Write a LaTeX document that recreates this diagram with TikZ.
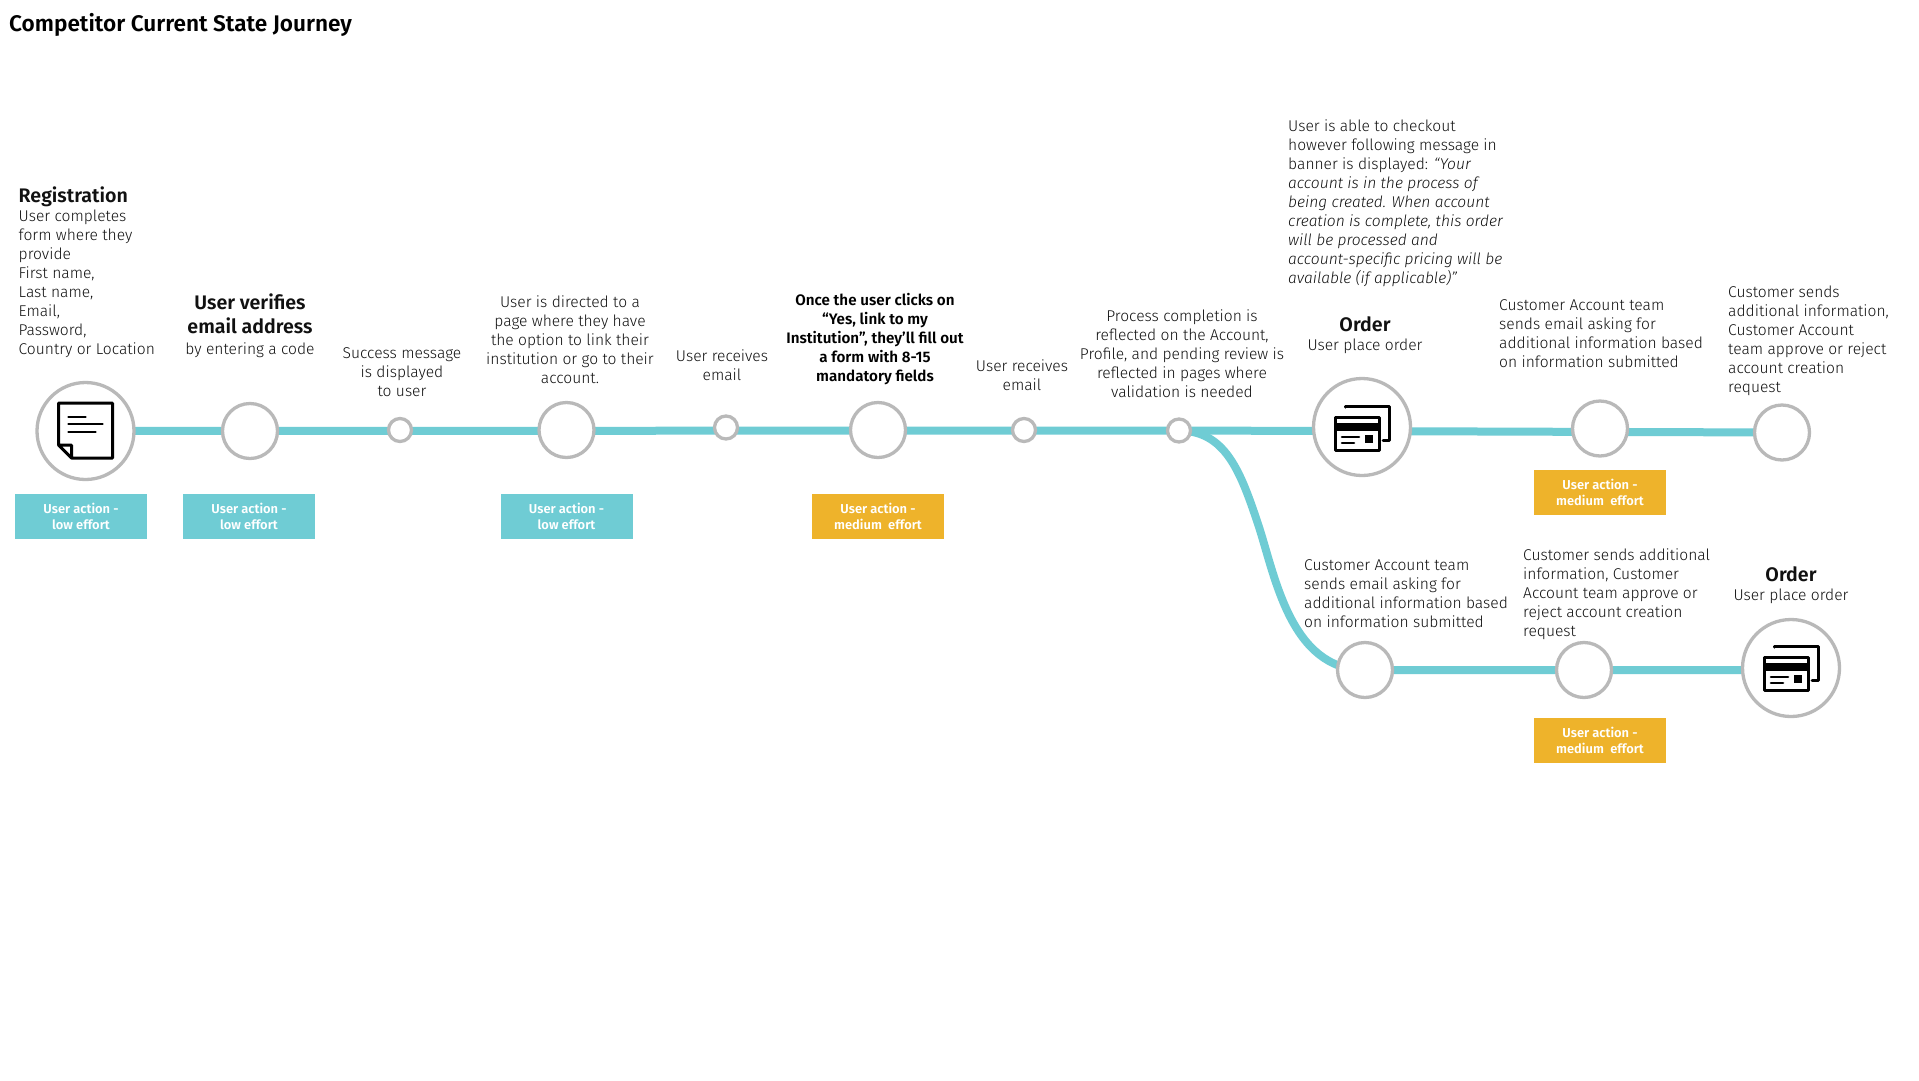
\documentclass[tikz,border=0pt]{standalone}
\usepackage{fontspec}
\setmainfont{Fira Sans Light}[BoldFont={Fira Sans SemiBold},ItalicFont={Fira Sans Light Italic}]
\usetikzlibrary{backgrounds}
\definecolor{teal}{HTML}{6FCCD4}
\definecolor{amber}{HTML}{EEB32B}
\definecolor{ring}{HTML}{B9B9B9}
\definecolor{ink}{HTML}{111111}
\tikzset{
  x=1pt,y=-1pt,
  ringnode/.style={circle,draw=ring,line width=3.3pt,fill=white,inner sep=0pt},
  big/.style={ringnode,minimum size=97pt},
  mid/.style={ringnode,minimum size=55pt},
  small/.style={ringnode,minimum size=23pt},
  track/.style={draw=teal,line width=8pt},
  badge/.style={minimum width=132pt,minimum height=45pt,inner sep=0pt,text=white,align=center,font=\fontsize{12.9}{16}\selectfont\bfseries},
  lowb/.style={badge,fill=teal},
  medb/.style={badge,fill=amber},
  body/.style={inner sep=0pt,text=ink,font=\fontsize{15.6}{19}\selectfont},
  lefttxt/.style={body,align=left,anchor=north west},
  midtxt/.style={body,align=center,anchor=south},
  icon/.style={line width=3pt,draw=black,line join=round,line cap=round},
  iconthin/.style={icon,line width=2.6pt}
}
\newcommand{\headtxt}[1]{{\fontsize{19.6}{24}\selectfont\bfseries #1}}
\newcommand{\cardicon}[2]{%
  \begin{scope}[shift={(#1,#2)}]
    \draw[icon] (-17,-21) -- (-17,-22) -- (27,-22) -- (27,12) -- (21,12);
    \draw[icon,fill=white] (-27,-11) rectangle (17,22);
    \fill[black] (-27,-5) rectangle (17,3);
    \draw[iconthin] (-20,9) -- (-3,9);
    \draw[iconthin] (-20,15) -- (-8,15);
    \fill[black] (3,7) rectangle (11,15);
  \end{scope}}
\begin{document}
\begin{tikzpicture}
\useasboundingbox (0,0) rectangle (1919,1080);
\node[anchor=west,inner sep=0pt,font=\fontsize{22.6}{26}\selectfont\bfseries] (title) at (9,25) {Competitor Current State Journey};
% nodes
\node[big] (n1) at (85.5,431) {};
\node[mid] (n2) at (250,431) {};
\node[small] (n3) at (400,430) {};
\node[mid] (n4) at (566.5,430) {};
\node[small] (n5) at (726,427.5) {};
\node[mid] (n6) at (878,430) {};
\node[small] (n7) at (1024,430) {};
\node[small] (n8) at (1179,430.5) {};
\node[big] (n9) at (1362,427) {};
\node[mid] (n10) at (1600,428.5) {};
\node[mid] (n11) at (1782,432.5) {};
\node[mid] (n12) at (1365,670) {};
\node[mid] (n13) at (1584,670) {};
\node[big] (n14) at (1791,668) {};
\coordinate (bend) at (1258,524);
\coordinate (lowend) at (1780,670);
% track, behind the rings
\begin{pgfonlayer}{background}
\fill[white] (0,0) rectangle (1919,1080);
\path[track] (n1.center) -- (n8.center) -- (n11.center);
\path[track] (n8.center) .. controls (1225,431) and (1240,470) .. (bend) .. controls (1275,575) and (1290,670) .. (n12.center) -- (n13.center) -- (lowend);
\end{pgfonlayer}
% icons
\begin{scope}[shift={(85.5,431)}]
  \draw[icon] (-27,14) -- (-27,-28) -- (27,-28) -- (27,27) -- (-14,27) -- (-27,14) -- (-14,14) -- (-14,27);
  \draw[iconthin] (-17,-14) -- (0,-14);
  \draw[iconthin] (-17,-7) -- (17,-7);
  \draw[iconthin] (-17,1) -- (10,1);
\end{scope}
\cardicon{1362}{428}
\cardicon{1791}{668}
% badges
\node[lowb] (b1) at (81,516.5) {User action -\\low effort};
\node[lowb] (b2) at (249,516.5) {User action -\\low effort};
\node[lowb] (b4) at (566.5,516.5) {User action -\\low effort};
\node[medb] (b6) at (878,516.5) {User action -\\medium\ \ effort};
\node[medb] (b10) at (1600,492.5) {User action -\\medium\ \ effort};
\node[medb] (b13) at (1600,740.5) {User action -\\medium\ \ effort};
% texts
\node[lefttxt] (t1) at (18.5,186.2) {\headtxt{Registration}\\User completes\\form where they\\provide\\First name,\\Last name,\\Email,\\Password,\\Country or Location};
\node[midtxt] (t2) at (250,358) {\headtxt{User verifies}\\[5pt]\headtxt{email address}\\[2pt]by entering a code};
\node[midtxt] (t3) at (402,397) {Success message\\is displayed\\to user};
\node[midtxt] (t4) at (570,383.5) {User is directed to a\\page where they have\\the option to link their\\institution or go to their\\account.};
\node[midtxt] (t5) at (722,380.5) {User receives\\email};
\node[midtxt,font=\fontsize{15.2}{19}\selectfont\bfseries,text=black] (t6) at (875,385.5) {Once the user clicks on\\“Yes, link to my\\Institution”, they’ll fill out\\a form with 8-15\\mandatory fields};
\node[midtxt] (t7) at (1022,391) {User receives\\email};
\node[midtxt] (t8) at (1182,398) {Process completion is\\reflected on the Account,\\Profile, and pending review is\\reflected in pages where\\validation is needed};
\node[lefttxt] (t9) at (1288,119.5) {User is able to checkout\\however following message in\\banner is displayed: \textit{“Your}\\\textit{account is in the process of}\\\textit{being created. When account}\\\textit{creation is complete, this order}\\\textit{will be processed and}\\\textit{account-specific pricing will be}\\\textit{available (if applicable)”}};
\node[midtxt] (t10) at (1365,354) {\headtxt{Order}\\User place order};
\node[lefttxt] (t11) at (1499,299) {Customer Account team\\sends email asking for\\additional information based\\on information submitted};
\node[lefttxt] (t12) at (1728,286) {Customer sends\\additional information,\\Customer Account\\team approve or reject\\account creation\\request};
\node[lefttxt] (t13) at (1304,559.5) {Customer Account team\\sends email asking for\\additional information based\\on information submitted};
\node[lefttxt] (t14) at (1523,549) {Customer sends additional\\information, Customer\\Account team approve or\\reject account creation\\request};
\node[midtxt] (t15) at (1791,604) {\headtxt{Order}\\User place order};
\end{tikzpicture}
\end{document}
